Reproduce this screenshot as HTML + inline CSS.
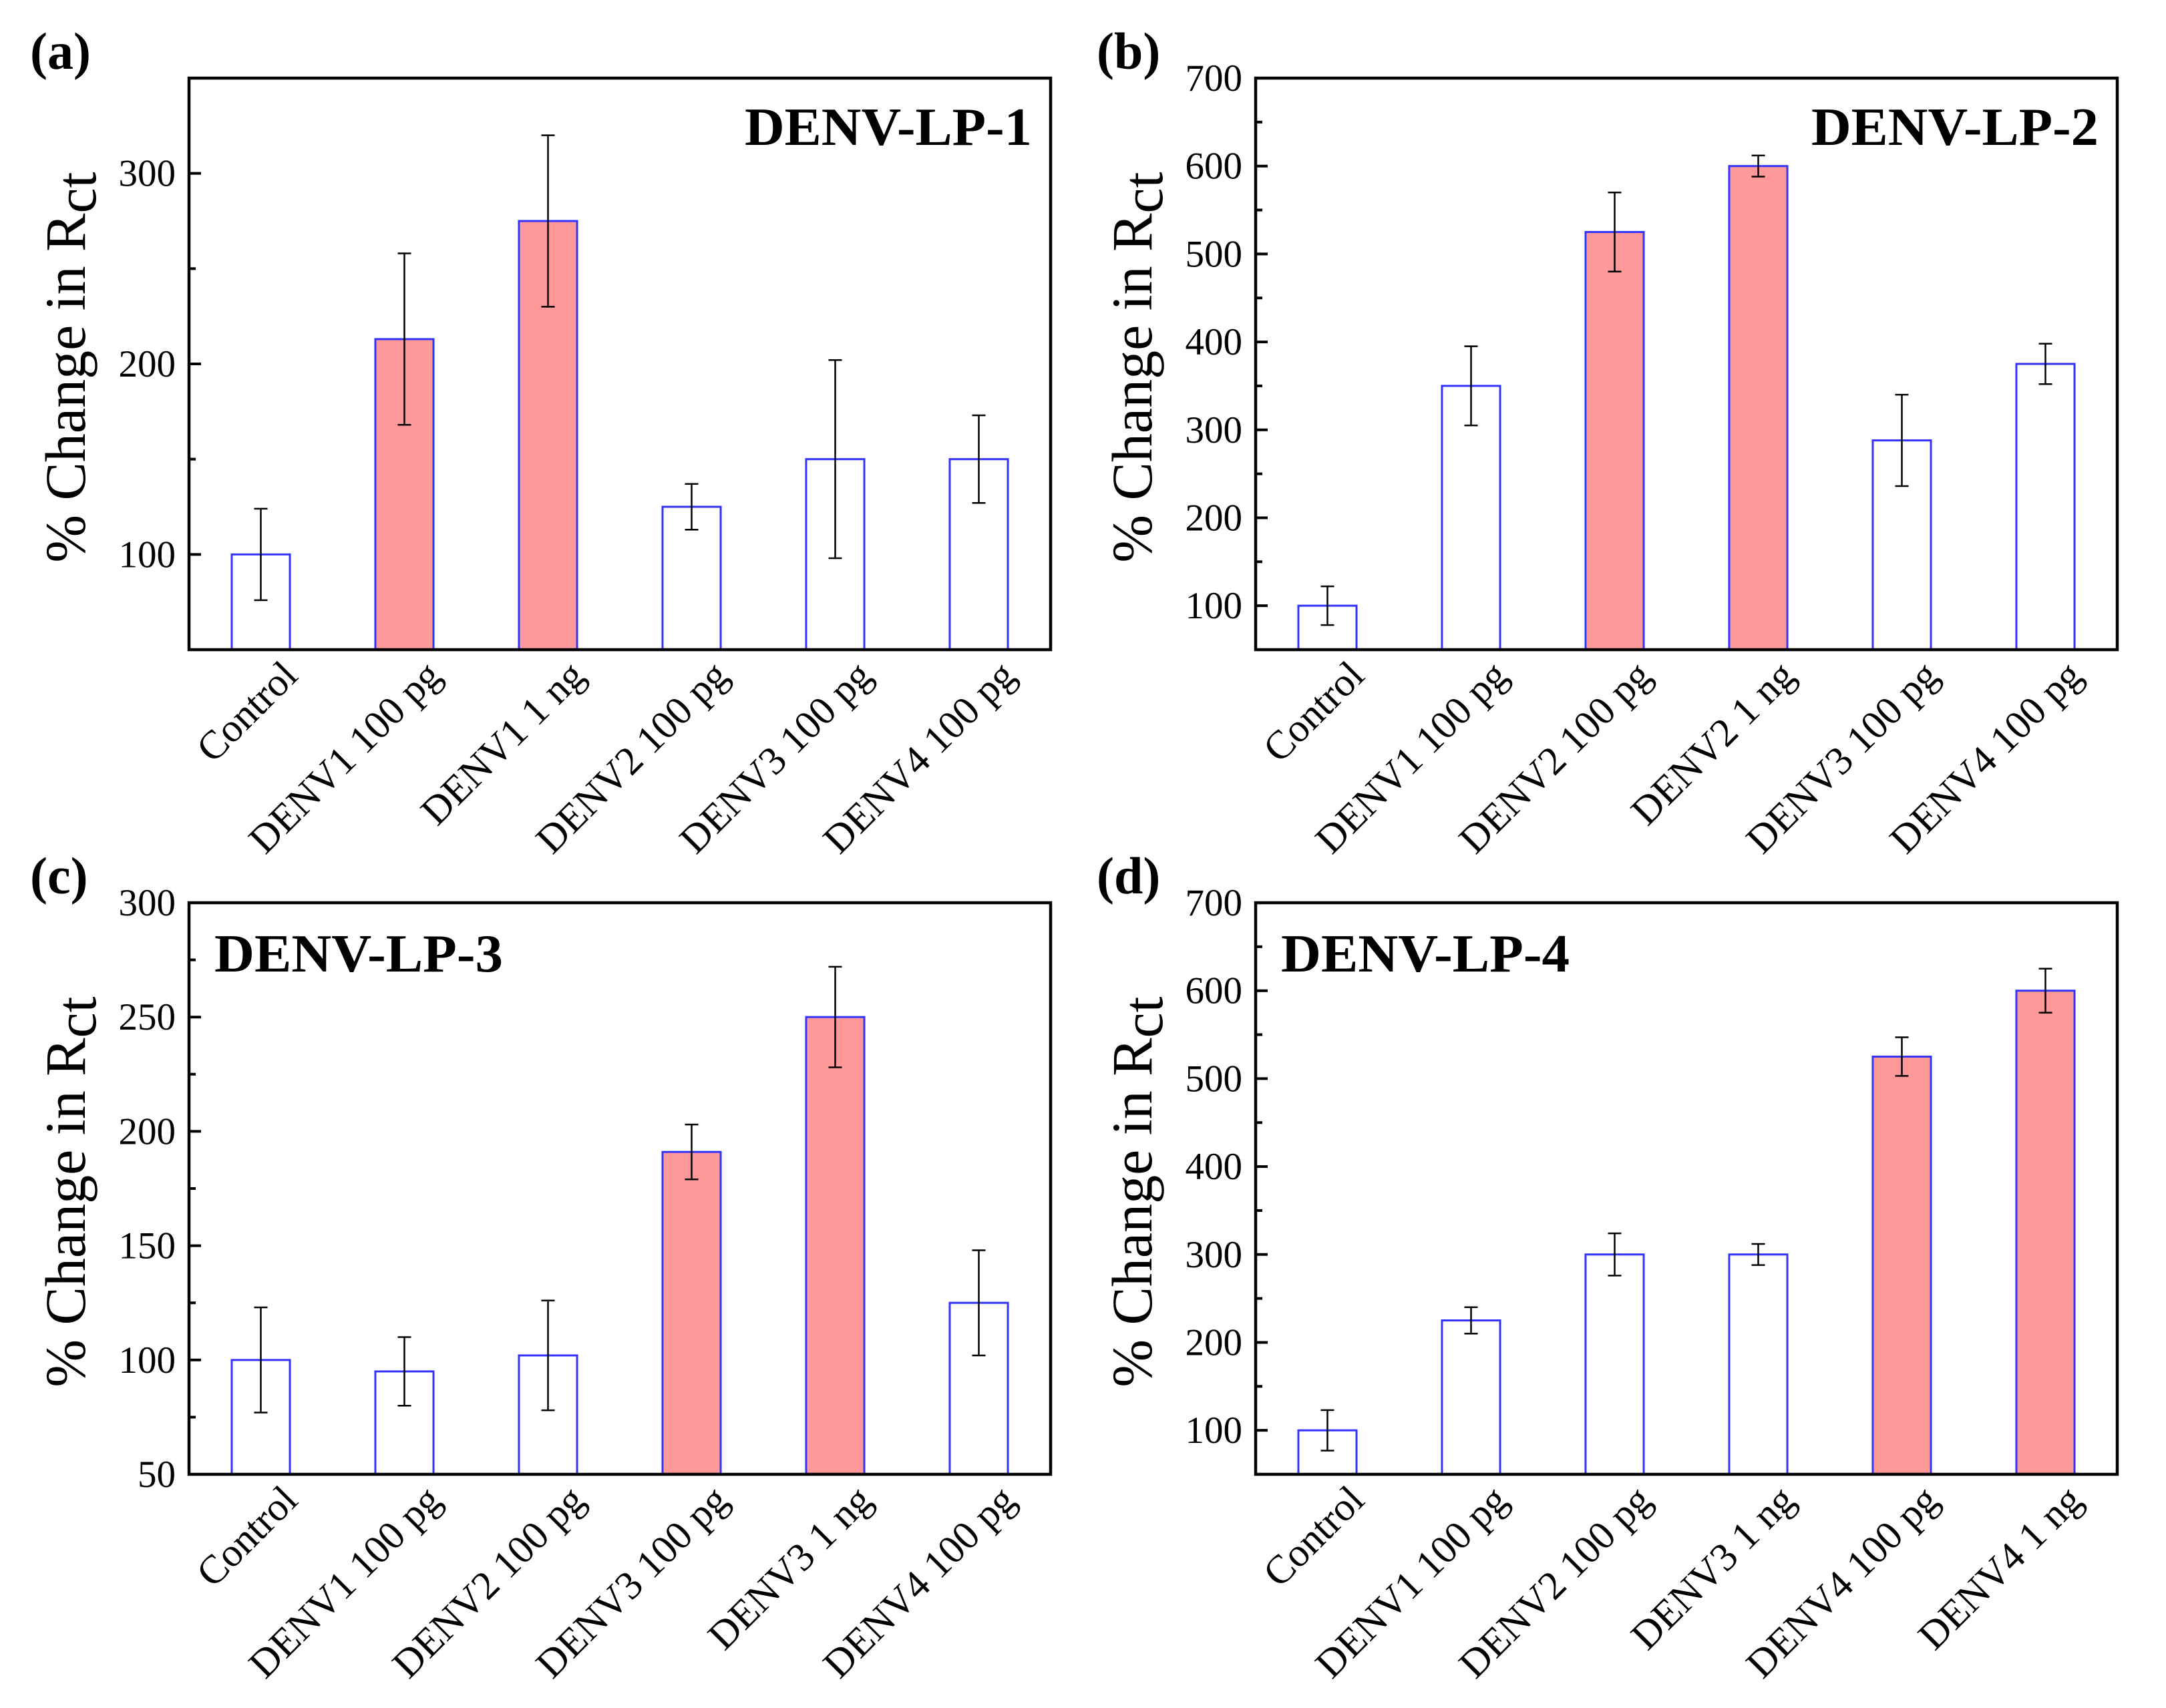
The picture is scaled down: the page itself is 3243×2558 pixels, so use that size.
<!DOCTYPE html>
<html><head><meta charset="utf-8"><style>
body{margin:0;background:#fff;position:relative;width:3243px;height:2558px;overflow:hidden}
svg text{font-family:"Liberation Serif",serif;fill:#000}
.yt{position:absolute;white-space:nowrap;font-family:"Liberation Serif","Times New Roman","DejaVu Serif",serif;font-size:86px;line-height:86px;color:#000;transform:translate(-50%,-50%) rotate(-90deg)}
.yt .s{position:relative;top:16px}
</style></head><body>
<svg id="fig" xmlns="http://www.w3.org/2000/svg" width="3243" height="2558" viewBox="0 0 3243 2558" style="position:absolute;left:0;top:0"></svg>
<script>
const catsA=["Control","DENV1 100 pg","DENV1 1 ng","DENV2 100 pg","DENV3 100 pg","DENV4 100 pg"];
const valsA=[100,213,275,125,150,150];
const errA=[24,45,45,12,52,23];
const redA=[0,1,1,0,0,0];
const catsB=["Control","DENV1 100 pg","DENV2 100 pg","DENV2 1 ng","DENV3 100 pg","DENV4 100 pg"];
const valsB=[100,350,525,600,288,375];
const errB=[22,45,45,12,52,23];
const redB=[0,0,1,1,0,0];
const catsC=["Control","DENV1 100 pg","DENV2 100 pg","DENV3 100 pg","DENV3 1 ng","DENV4 100 pg"];
const valsC=[100,95,102,191,250,125];
const errC=[23,15,24,12,22,23];
const redC=[0,0,0,1,1,0];
const catsD=["Control","DENV1 100 pg","DENV2 100 pg","DENV3 1 ng","DENV4 100 pg","DENV4 1 ng"];
const valsD=[100,225,300,300,525,600];
const errD=[23,15,24,12,22,25];
const redD=[0,0,0,0,1,1];
const ticksA=[100,200,300];
const ticksB=[100,200,300,400,500,600,700];
const ticksC=[50,100,150,200,250,300];
const ticksD=[100,200,300,400,500,600,700];

const NS="http://www.w3.org/2000/svg";
const svg=document.getElementById('fig');
function mk(tag,attrs,parent,txt){const e=document.createElementNS(NS,tag);for(const k in attrs)e.setAttribute(k,attrs[k]);if(txt!==undefined)e.textContent=txt;(parent||svg).appendChild(e);return e;}

function panel(id,ox,oy,cats,vals,errs,reds,ticks,ymin,ymax,minorStep,letter,title,titleRight){
  const L=ox,T=oy,W=1290,H=856,R=L+W,B=T+H;
  const g=mk('g',{});
  
  
  const y=v=>B-(v-ymin)/(ymax-ymin)*H;
  const step=W/cats.length;
  const x=i=>L+step*(i+0.5);
  const bw=step*0.405;
  for(let i=0;i<cats.length;i++){
    const r=mk('rect',{x:x(i)-bw/2,y:y(vals[i]),width:bw,height:B-y(vals[i]),fill:reds[i]?'#ff9999':'#fff',stroke:'#3333ff','stroke-width':3},g);
    
    
    const eg=mk('g',{stroke:'#000','stroke-width':2.5},g);
    
    
    mk('line',{x1:x(i),x2:x(i),y1:y(vals[i]+errs[i]),y2:y(vals[i]-errs[i])},eg);
    mk('line',{x1:x(i)-10,x2:x(i)+10,y1:y(vals[i]+errs[i]),y2:y(vals[i]+errs[i])},eg);
    mk('line',{x1:x(i)-10,x2:x(i)+10,y1:y(vals[i]-errs[i]),y2:y(vals[i]-errs[i])},eg);
    const t=mk('text',{x:x(i)+58,y:B+42,'font-size':60,'text-anchor':'end',transform:`rotate(-45 ${x(i)+58} ${B+42})`},g,cats[i]);
    
    
  }
  for(let v=Math.ceil(ymin/minorStep)*minorStep;v<=ymax;v+=minorStep){
    if(v<=ymin||v>=ymax)continue;
    const major=ticks.includes(v);
    mk('line',{x1:L,x2:L+(major?18:10),y1:y(v),y2:y(v),stroke:'#000','stroke-width':4},g);
  }
  for(const v of ticks){
    const t=mk('text',{x:L-20,y:y(v)+19,'font-size':57,'text-anchor':'end'},g,String(v));
    
    
  }
  const fr=mk('rect',{x:L,y:T,width:W,height:H,fill:'none',stroke:'#000','stroke-width':4.5},g);
  
  
  const yt=document.createElement('div');
  yt.className='yt';
  
  
  yt.style.left=(L-185)+'px';
  yt.style.top=(T+H/2+5)+'px';
  yt.innerHTML='<span>%</span> <span>Change in R</span><span class="s">ct</span>';
  document.body.appendChild(yt);
  const pl=mk('text',{x:L-238,y:T-14,'font-size':78,'font-weight':'bold'},g,letter);
  
  
  const tt=titleRight
    ? mk('text',{x:R-28,y:T+100,'font-size':80,'font-weight':'bold','text-anchor':'end',textLength:430,lengthAdjust:'spacingAndGlyphs'},g,title)
    : mk('text',{x:L+38,y:T+103,'font-size':80,'font-weight':'bold',textLength:432,lengthAdjust:'spacingAndGlyphs'},g,title);
  
  
}
panel('a',283,117,catsA,valsA,errA,redA,ticksA,50,350,50,'(a)','DENV-LP-1',true);
panel('b',1880,117,catsB,valsB,errB,redB,ticksB,50,700,50,'(b)','DENV-LP-2',true);
panel('c',283,1352,catsC,valsC,errC,redC,ticksC,50,300,25,'(c)','DENV-LP-3',false);
panel('d',1880,1352,catsD,valsD,errD,redD,ticksD,50,700,50,'(d)','DENV-LP-4',false);
</script>
</body></html>
